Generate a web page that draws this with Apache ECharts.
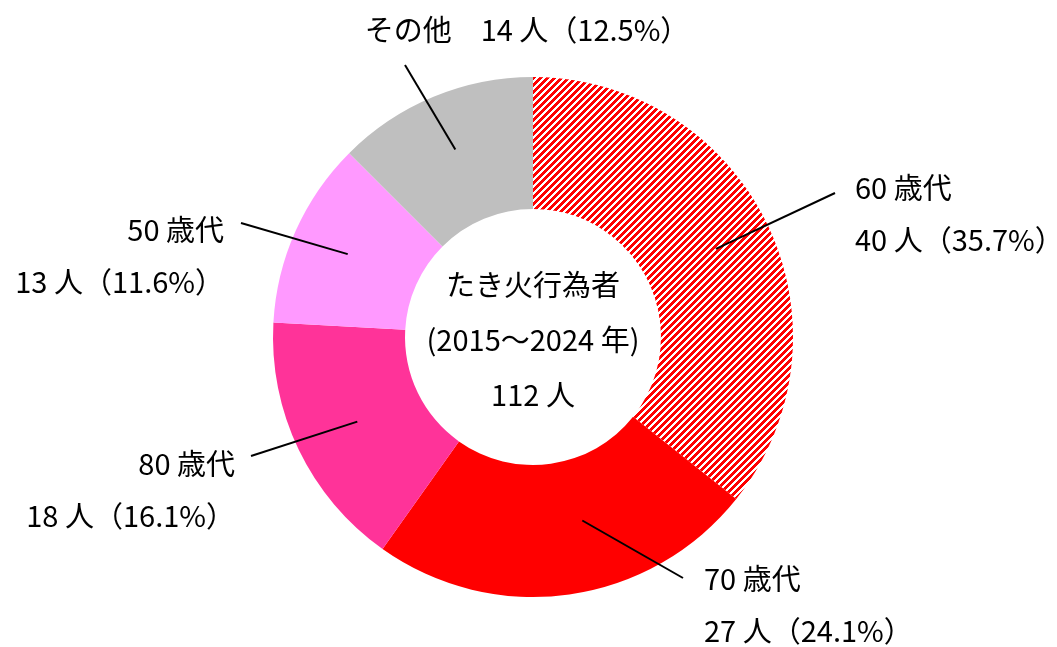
<!DOCTYPE html>
<html lang="ja">
<head>
    <meta charset="utf-8">
    <style>
        html, body, #container {
          width: 1057px;
          height: 647px;
          margin: 0;
          padding: 0;
          background: #fff;
        }
    </style>
</head>
<body>
<div id="container"></div>
<script type="text/javascript" src="https://cdn.jsdelivr.net/npm/echarts@6.0.0/dist/echarts.min.js"></script>
<script type="text/javascript">
  // data
  var categories = ['60 歳代', '70 歳代', '80 歳代', '50 歳代', 'その他'];
  var counts = [40, 27, 18, 13, 14];
  var centerLines = ['たき火行為者', '(2015～2024 年)', '112 人'];

  var colorList = ['#FF0000', '#FF0000', '#FF3399', '#FF99FF', '#BFBFBF'];

  // label placement (anchor, alignment, leader end, leader start tweak)
  var labelPlaces = [
    { x: 855, y: 214, align: 'left',   end: [835, 193], dr: 0,   da: 0 },
    { x: 704, y: 605, align: 'left',   end: [683, 578], dr: -13, da: 7 },
    { x: 235, y: 490, align: 'right',  end: [251, 456], dr: -8,  da: 0 },
    { x: 224, y: 256, align: 'right',  end: [241, 223], dr: 0,   da: 0 },
    { x: 527, y: 30,  align: 'center', end: [405, 65],  dr: 0,   da: 0 }
  ];

  var FONT = '"Noto Sans CJK JP", "Noto Sans", sans-serif';
  var FS = 29;
  var cx = 533, cy = 337, rIn = 128, rOut = 260;
  var total = counts.reduce(function (a, b) { return a + b; }, 0);

  // hatched fill for the first slice (crisp pixel stripes, rising to the right)
  function makeHatch() {
    var c = document.createElement('canvas');
    var s = 7, w = 4;
    c.width = s; c.height = s;
    var g = c.getContext('2d');
    g.fillStyle = '#fff';
    g.fillRect(0, 0, s, s);
    g.fillStyle = '#FF0000';
    for (var y = 0; y < s; y++) {
      for (var x = 0; x < s; x++) {
        if ((x + y) % s < w) g.fillRect(x, y, 1, 1);
      }
    }
    return c;
  }

  function midAngle(i) {
    var before = 0;
    for (var j = 0; j < i; j++) before += counts[j];
    return (before + counts[i] / 2) / total * 360;
  }

  var sliceData = categories.map(function (name, i) {
    var item = { name: name, value: counts[i], itemStyle: { color: colorList[i] } };
    if (i === 0) item.itemStyle.color = { image: makeHatch(), repeat: 'repeat' };
    return item;
  });
  var labelData = categories.map(function (name, i) {
    return { name: name, value: counts[i] };
  });

  var dom = document.getElementById('container');
  var myChart = echarts.init(dom, null, { renderer: 'canvas' });

  var option = {
    animation: false,
    graphic: [{
      type: 'text',
      x: cx,
      y: 340,
      style: {
        text: centerLines.join('\n'),
        font: FS + 'px ' + FONT,
        lineHeight: 55,
        fill: '#000',
        align: 'center',
        verticalAlign: 'middle'
      }
    }],
    series: [{
      type: 'pie',
      z: 2,
      center: [cx, cy],
      radius: [rIn, rOut],
      startAngle: 90,
      clockwise: true,
      itemStyle: { borderWidth: 0 },
      label: { show: false },
      labelLine: { show: false },
      data: sliceData
    }, {
      // transparent copy on top, carrying labels and leader lines
      type: 'pie',
      z: 5,
      silent: true,
      center: [cx, cy],
      radius: [rIn, rOut],
      startAngle: 90,
      clockwise: true,
      avoidLabelOverlap: false,
      itemStyle: { color: 'rgba(0,0,0,0)', borderWidth: 0 },
      label: {
        show: true,
        position: 'outside',
        color: '#000',
        fontFamily: FONT,
        fontSize: FS,
        lineHeight: 52,
        formatter: function (p) {
          var pct = (p.value / total * 100).toFixed(1);
          if (p.dataIndex === 4) return p.name + '\u3000' + p.value + ' 人（' + pct + '%）';
          return p.name + '\n' + p.value + ' 人（' + pct + '%）';
        }
      },
      labelLine: {
        show: true,
        lineStyle: { color: '#000', width: 2 }
      },
      labelLayout: function (params) {
        var i = params.dataIndex;
        var lp = labelPlaces[i];
        var a = (midAngle(i) - lp.da) * Math.PI / 180;
        var r = 203 + lp.dr;
        var sx = cx + r * Math.sin(a);
        var sy = cy - r * Math.cos(a);
        return {
          x: lp.x,
          y: lp.y,
          align: lp.align,
          verticalAlign: 'middle',
          labelLinePoints: [[sx, sy], lp.end, lp.end]
        };
      },
      data: labelData
    }]
  };

  myChart.setOption(option);
  window.addEventListener('resize', myChart.resize);
</script>
</body>
</html>
